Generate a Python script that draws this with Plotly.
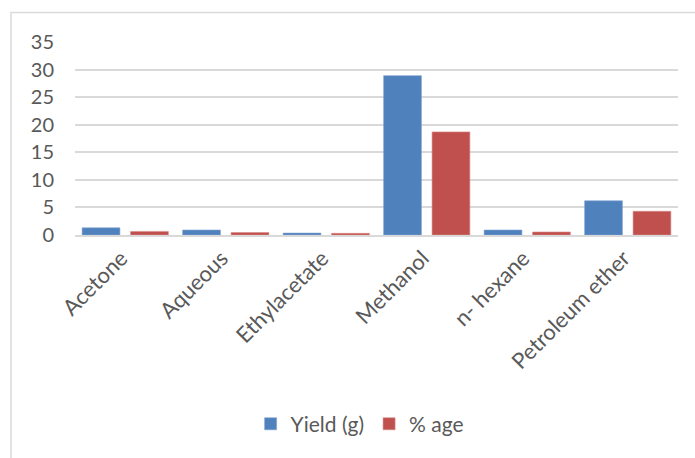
import plotly.graph_objects as go

# Extraction yield by solvent
solvents = ["Acetone", "Aqueous", "Ethylacetate", "Methanol", "n- hexane", "Petroleum ether"]
yield_g = [1.3, 0.9, 0.35, 28.9, 0.9, 6.2]
pct_age = [0.65, 0.45, 0.3, 18.7, 0.55, 4.3]
y_ticks = [0, 5, 10, 15, 20, 25, 30, 35]

W, H = 695, 458
ML, MR, MT, MB = 75, 17, 42, 223

fig = go.Figure()
fig.add_trace(go.Bar(x=solvents, y=yield_g, name="Yield (g)",
                     marker=dict(color="#4F81BD", line=dict(color="#7FA3D0", width=0.6))))
fig.add_trace(go.Bar(x=solvents, y=pct_age, name="% age",
                     marker=dict(color="#C0504D", line=dict(color="#D88A88", width=0.6))))

family = "Lato, 'Open Sans', sans-serif"
grey = "#595959"
font = dict(family=family, size=20, color=grey)

fig.update_layout(
    width=W, height=H,
    margin=dict(l=ML, r=MR, t=MT, b=MB),
    paper_bgcolor="white", plot_bgcolor="white",
    barmode="group", bargap=0.036, bargroupgap=0.22,
    font=font,
    showlegend=True,
    legend=dict(orientation="h", x=0.472, xanchor="center", y=-0.98, yanchor="middle",
                font=dict(family=family, size=21, color=grey),
                traceorder="normal", itemclick=False),
    xaxis=dict(tickangle=-45, showgrid=False, showline=True, linecolor="#D9D9D9",
               linewidth=1.5, ticks="", ticklabelshift=-4,
               tickfont=dict(family=family, size=22, color=grey)),
    yaxis=dict(range=[0, 35], tickvals=y_ticks, showgrid=True, gridcolor="#D9D9D9",
               gridwidth=1.5, zeroline=False, showline=False, ticks="",
               ticklabelstandoff=20, tickfont=font),
)

# Chart area frame (left and top edges fall inside the page)
px_x = lambda px: (px - ML) / (W - ML - MR)
px_y = lambda py: (H - MB - py) / (H - MT - MB)
fig.add_shape(type="rect", xref="paper", yref="paper",
              x0=px_x(11), x1=px_x(W + 20), y0=px_y(H + 20), y1=px_y(12.5),
              line=dict(color="#D9D9D9", width=1.5), fillcolor="rgba(0,0,0,0)", layer="below")

fig.write_html("out.html")
